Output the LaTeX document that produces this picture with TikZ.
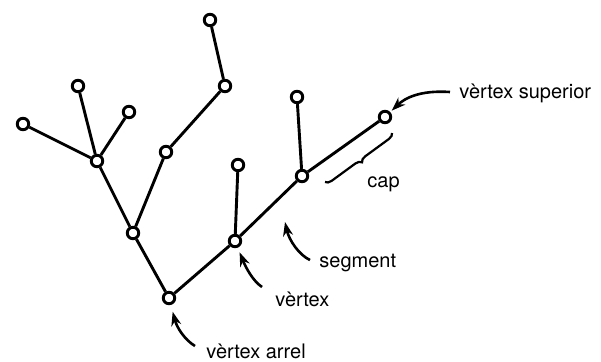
\documentclass[tikz,border=0pt]{standalone}
\usepackage{fontspec}
\setmainfont{TeX Gyre Heros}
\usetikzlibrary{arrows.meta, decorations.pathreplacing}

\begin{document}
\begin{tikzpicture}[x=1pt, y=-1pt, line width=2.9pt,
  vtx/.style={draw, circle, fill=white, minimum size=11.5pt, inner sep=0pt},
  lbl/.style={anchor=west, inner sep=0pt, font=\fontsize{20}{24}\selectfont},
  pointer/.style={arrows={-Stealth[length=14pt, width=10pt]}, line width=2.6pt}]
\useasboundingbox (0,0) rectangle (601,361);
% vertices
\node  (r)[vtx] at (169,298) {};
\node  (a)[vtx] at (133,233) {};
\node  (b)[vtx] at (97,161) {};
\node  (ll)[vtx] at (23,124) {};
\node  (lt)[vtx] at (78,86) {};
\node  (lr)[vtx] at (129,112) {};
\node  (c)[vtx] at (166,152) {};
\node  (d)[vtx] at (225,86) {};
\node  (e)[vtx] at (210,20) {};
\node  (f)[vtx] at (235,241) {};
\node  (lf)[vtx] at (238,165) {};
\node  (g)[vtx] at (302,176) {};
\node  (lg)[vtx] at (297,97) {};
\node  (h)[vtx] at (385,117) {};
% segments
\draw (r) -- (a);
\draw (a) -- (b);
\draw (b) -- (ll);
\draw (b) -- (lt);
\draw (b) -- (lr);
\draw (a) -- (c);
\draw (c) -- (d);
\draw (d) -- (e);
\draw (r) -- (f);
\draw (f) -- (lf);
\draw (f) -- (g);
\draw (g) -- (lg);
\draw (g) -- (h);
% labels
\node  (sup)[lbl] at (458,93) {vèrtex superior};
\node  (cap)[lbl] at (366,184) {cap};
\node  (seg)[lbl] at (318,263) {segment};
\node  (vx)[lbl] at (274,299) {vèrtex};
\node  (ar)[lbl] at (205,351) {vèrtex arrel};
\coordinate (segpt) at (285,222);
\draw[pointer, shorten >=2pt] ([shift={(-8,-1)}]sup.west) .. controls (420,90) and (405,98) .. (h);
\draw[pointer] ([shift={(-8,-3)}]seg.west) .. controls (299,255) and (289,240) .. (segpt);
\draw[pointer, shorten >=5pt] ([shift={(-12,-12)}]vx.west) .. controls (253,281) and (246,268) .. (f);
\draw[pointer, shorten >=7pt] ([shift={(-10,-5)}]ar.west) .. controls (185,340) and (177,328) .. (r);
\draw[line width=2.2pt, decorate, decoration={brace, amplitude=6pt}] (392,133) -- (325,182);
\end{tikzpicture}
\end{document}
